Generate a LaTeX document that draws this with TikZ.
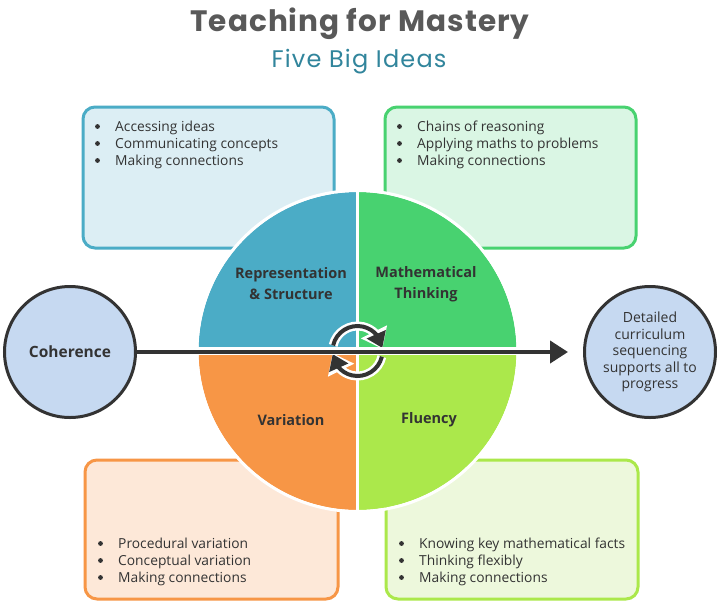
\documentclass[tikz,border=0pt]{standalone}
\usepackage{fontspec}
\setmainfont{Open Sans}
\newfontfamily\titlefont[LetterSpace=3.5]{Poppins}
\newfontfamily\subfont[LetterSpace=5]{Poppins}
\usetikzlibrary{arrows.meta,bending}
\definecolor{qblue}{HTML}{4BACC6}
\definecolor{qgreen}{HTML}{48D270}
\definecolor{qorange}{HTML}{F79646}
\definecolor{qlime}{HTML}{ABE84B}
\definecolor{lblue}{HTML}{DCEEF4}
\definecolor{lgreen}{HTML}{DAF6E4}
\definecolor{lorange}{HTML}{FDE8D8}
\definecolor{llime}{HTML}{EDF8DC}
\definecolor{txt}{HTML}{333333}
\definecolor{ttl}{HTML}{595959}
\definecolor{sub}{HTML}{31859C}
\definecolor{cfill}{HTML}{C6D9F1}
\definecolor{dark}{HTML}{333333}
\begin{document}
\begin{tikzpicture}[x=1pt,y=-1pt,
  ibox/.style={rounded corners=12pt, line width=3pt, anchor=north west, inner sep=0pt},
  blist/.style={anchor=base west, inner sep=0pt, text=txt, font=\fontsize{13.8}{17}\selectfont},
  qlabel/.style={inner sep=0pt, align=center, text=txt, font=\fontsize{14.5}{21}\selectfont\bfseries},
  endcircle/.style={circle, draw=dark, line width=3pt, fill=cfill, minimum size=131pt, inner sep=0pt, text=txt, align=center},
  cyc/.style={line width=4pt, draw=dark, -{Triangle[length=15pt,width=20pt]}},
  cycw/.style={line width=9pt, draw=white, -{Triangle[length=19pt,width=28pt]}}
]
\useasboundingbox (0,0) rectangle (717,606);
\fill[white] (0,0) rectangle (717,606);

% titles
\node[anchor=base, inner sep=0pt, text=ttl, font=\titlefont\fontsize{29.5}{30}\selectfont\bfseries] (title) at (360,31) {Teaching for Mastery};
\node[anchor=base, inner sep=0pt, text=sub, font=\subfont\fontsize{24}{26}\selectfont] (subtitle) at (359,67) {Five Big Ideas};

% corner boxes
\node[ibox, draw=qblue, fill=lblue, minimum width=251pt, minimum height=141pt] (bTL) at (81.5,105.5) {};
\node[ibox, draw=qgreen, fill=lgreen, minimum width=251pt, minimum height=141pt] (bTR) at (383.5,105.5) {};
\node[ibox, draw=qorange, fill=lorange, minimum width=253pt, minimum height=139pt] (bBL) at (83.5,458.5) {};
\node[ibox, draw=qlime, fill=llime, minimum width=252pt, minimum height=139pt] (bBR) at (384.5,458.5) {};

% lists
\node[blist] (lTL) at (115,131) {\begin{tabular}[t]{@{}l@{}}Accessing ideas\\Communicating concepts\\Making connections\end{tabular}};
\node[blist] (lTR) at (417,131) {\begin{tabular}[t]{@{}l@{}}Chains of reasoning\\Applying maths to problems\\Making connections\end{tabular}};
\node[blist] (lBL) at (118,548) {\begin{tabular}[t]{@{}l@{}}Procedural variation\\Conceptual variation\\Making connections\end{tabular}};
\node[blist] (lBR) at (419,548) {\begin{tabular}[t]{@{}l@{}}Knowing key mathematical facts\\Thinking flexibly\\Making connections\end{tabular}};
% bullets
\foreach \bx/\by in {97.5/126.5, 399.5/126.5, 100.5/543.5, 401.5/543.5}
  \foreach \k in {0,1,2}
    \fill[txt] (\bx,\by+17*\k) circle[radius=2.4];

% central wheel
\node[circle, minimum size=318pt, inner sep=0pt] (hub) at (357.5,351) {};
\begin{scope}
\clip (hub.center) circle[radius=159];
\fill[qblue] (190,180) rectangle (357.5,351);
\fill[qgreen] (357.5,180) rectangle (530,351);
\fill[qorange] (190,351) rectangle (357.5,520);
\fill[qlime] (357.5,351) rectangle (530,520);
\end{scope}
\draw[white, line width=3pt] (hub.center) circle[radius=160.5];
\draw[white, line width=3.5pt] (hub.north) -- (hub.south);

% quadrant labels
\node[qlabel] (rep) at (291,284) {Representation\\\& Structure};
\node[qlabel] (mth) at (426,284) {Mathematical\\Thinking};
\node[qlabel] (var) at (291,420) {Variation};
\node[qlabel] (flu) at (429,420) {Fluency};

% end circles
\node[endcircle, font=\fontsize{15.5}{17}\selectfont\bfseries] (coh) at (70,352) {Coherence};
\node[endcircle, font=\fontsize{14}{16.5}\selectfont] (det) at (650,352) {Detailed\\curriculum\\sequencing\\supports all to\\progress};

% cycle arrows
\begin{scope}[shift={(hub.center)}, yscale=-1]
\draw[cycw] (167:25) arc[start angle=167, end angle=5, radius=25];
\draw[cycw] (-13:25) arc[start angle=-13, end angle=-175, radius=25];
\draw[cyc] (167:25) arc[start angle=167, end angle=7, radius=25];
\draw[cyc] (-13:25) arc[start angle=-13, end angle=-173, radius=25];
\end{scope}

% white band across the wheel, then main arrow
\draw[white, line width=8pt] (hub.west) -- (hub.east);
\draw[dark, line width=4pt, -{Triangle[length=18pt,width=22pt]}, shorten >=15pt] (coh) -- (det);
\end{tikzpicture}
\end{document}
